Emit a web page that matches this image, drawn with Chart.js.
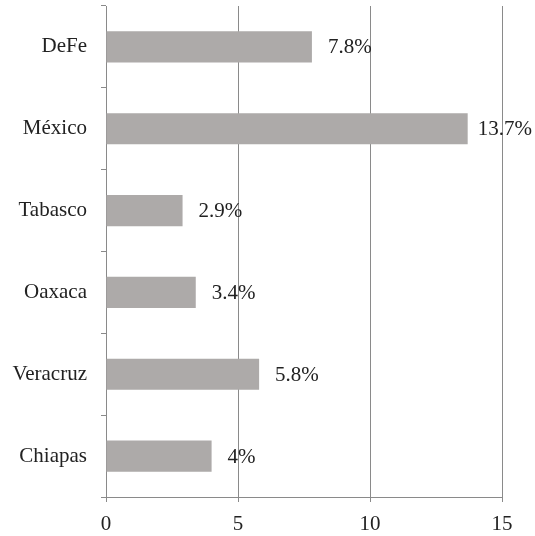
<!DOCTYPE html>
<html>
<head>
<meta charset="utf-8">
<script src="https://cdn.jsdelivr.net/npm/chart.js@4"></script>
<style>
  html, body { margin: 0; padding: 0; background: #fff; }
  #wrap { width: 535px; height: 536px; position: relative; }
</style>
</head>
<body>
<div id="wrap"><canvas id="chart"></canvas></div>
<script>
// --- Data
const states = ["DeFe", "México", "Tabasco", "Oaxaca", "Veracruz", "Chiapas"];
const shares = [7.8, 13.7, 2.9, 3.4, 5.8, 4];
const xTicks = [0, 5, 10, 15];

const FONT = "'Liberation Serif', 'Times New Roman', serif";
const FSIZE = 21;
const TEXT = "#222";
const AXIS = "#8a8a8a";

// value labels right of each bar
const barLabels = {
  id: "barLabels",
  afterDatasetsDraw(chart){
    const ctx = chart.ctx;
    const meta = chart.getDatasetMeta(0);
    ctx.save();
    ctx.font = FSIZE + "px " + FONT;
    ctx.fillStyle = TEXT;
    ctx.textBaseline = "middle";
    meta.data.forEach((bar, i) => {
      const txt = shares[i] + "%";
      const w = ctx.measureText(txt).width;
      const x = Math.min(bar.x + 16, chart.width - w - 3);
      ctx.fillText(txt, x, bar.y + 1);
    });
    ctx.restore();
  }
};

new Chart(document.getElementById("chart"), {
  type: "bar",
  data: {
    labels: states,
    datasets: [{
      data: shares,
      backgroundColor: "#adaaa9",
      borderWidth: 0,
      barPercentage: 0.76,
      categoryPercentage: 0.5
    }]
  },
  options: {
    indexAxis: "y",
    responsive: true,
    maintainAspectRatio: false,
    animation: false,
    layout: { padding: { top: 6, right: 33, left: 0, bottom: 0 } },
    plugins: { legend: { display: false }, tooltip: { enabled: false } },
    scales: {
      x: {
        min: 0,
        max: 15,
        afterBuildTicks: (s) => { s.ticks = xTicks.map(v => ({ value: v })); },
        afterFit: (s) => { s.height = 39; s.paddingLeft = 0; s.paddingRight = 0; },
        grid: { color: AXIS, lineWidth: 1, drawTicks: true, tickLength: 5, tickColor: AXIS },
        border: { display: true, color: AXIS, width: 1 },
        ticks: { color: TEXT, font: { family: FONT, size: FSIZE }, padding: 10 }
      },
      y: {
        afterFit: (s) => { s.width = 106; s.paddingTop = 0; s.paddingBottom = 0; },
        grid: { drawOnChartArea: false, drawTicks: true, tickLength: 5, color: AXIS, offset: true },
        border: { display: true, color: AXIS, width: 1 },
        ticks: { color: TEXT, font: { family: FONT, size: FSIZE }, padding: 14 }
      }
    }
  },
  plugins: [barLabels]
});
</script>
</body>
</html>
